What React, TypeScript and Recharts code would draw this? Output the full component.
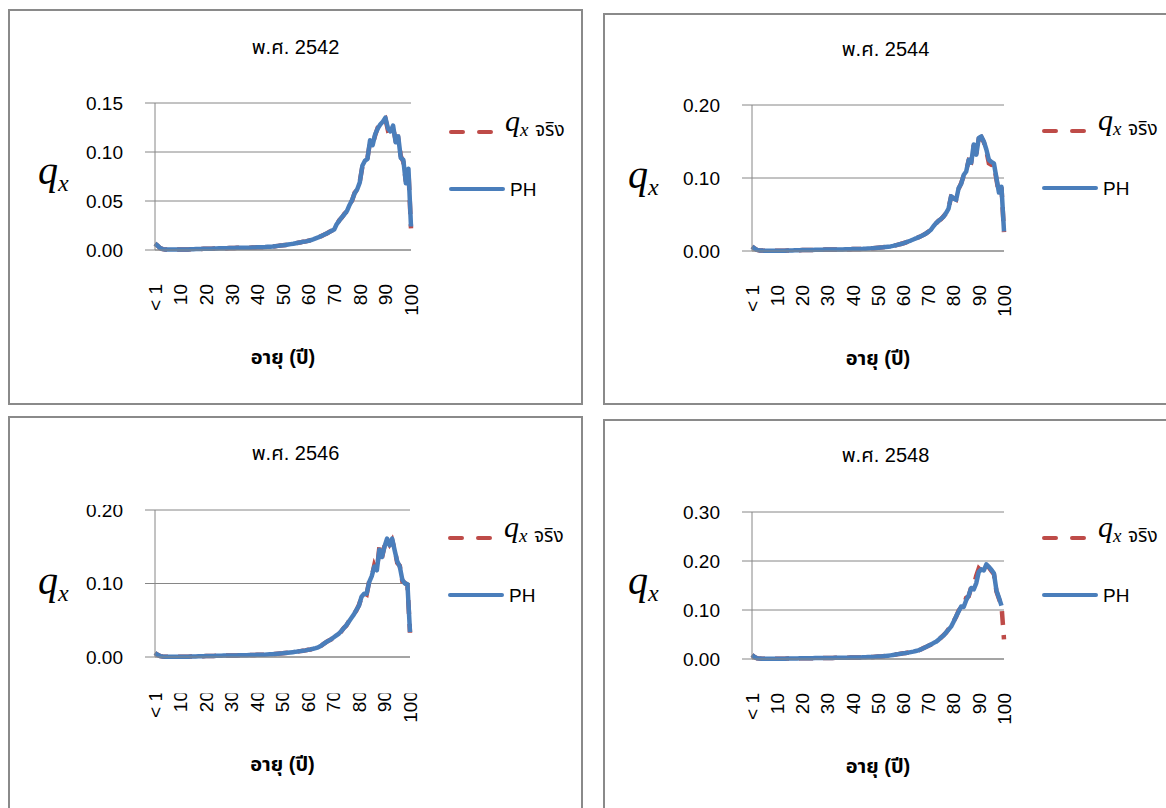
import React from "react";
import { LineChart, Line, XAxis, YAxis, CartesianGrid, Legend } from "recharts";

// age categories; Excel shows every 10th one
const ages = [
  "< 1", "1", "2", "3", "4", "5", "6", "7", "8", "9",
  "10", "11", "12", "13", "14", "15", "16", "17", "18", "19",
  "20", "21", "22", "23", "24", "25", "26", "27", "28", "29",
  "30", "31", "32", "33", "34", "35", "36", "37", "38", "39",
  "40", "41", "42", "43", "44", "45", "46", "47", "48", "49",
  "50", "51", "52", "53", "54", "55", "56", "57", "58", "59",
  "60", "61", "62", "63", "64", "65", "66", "67", "68", "69",
  "70", "71", "72", "73", "74", "75", "76", "77", "78", "79",
  "80", "81", "82", "83", "84", "85", "86", "87", "88", "89",
  "90", "91", "92", "93", "94", "95", "96", "97", "98", "99",
  "100",
];

// พ.ศ. 2542
const qx2542 = [
  0.0065, 0.0045, 0.0020, 0.0009, 0.0006, 0.0005, 0.0004, 0.0004, 0.0004, 0.0004,
  0.0004, 0.0005, 0.0005, 0.0006, 0.0007, 0.0008, 0.0009, 0.0010, 0.0011, 0.0012,
  0.0013, 0.0014, 0.0014, 0.0015, 0.0016, 0.0017, 0.0018, 0.0018, 0.0019, 0.0020,
  0.0021, 0.0021, 0.0022, 0.0022, 0.0023, 0.0023, 0.0024, 0.0024, 0.0025, 0.0026,
  0.0027, 0.0028, 0.0029, 0.0030, 0.0032, 0.0034, 0.0036, 0.0039, 0.0042, 0.0045,
  0.0048, 0.0052, 0.0056, 0.0060, 0.0064, 0.0069, 0.0074, 0.0079, 0.0085, 0.0088,
  0.0095, 0.0101, 0.0112, 0.0120, 0.0132, 0.0142, 0.0156, 0.0167, 0.0183, 0.0196,
  0.0215, 0.0260, 0.0305, 0.0330, 0.0370, 0.0395, 0.0465, 0.0505, 0.0585, 0.0615,
  0.0700, 0.0850, 0.0920, 0.0940, 0.1100, 0.1080, 0.1170, 0.1250, 0.1270, 0.1320,
  0.1340, 0.1220, 0.1230, 0.1250, 0.1120, 0.1140, 0.0960, 0.0900, 0.0700, 0.0810,
  0.0220,
];
const ph2542 = [
  0.0065, 0.0045, 0.0020, 0.0009, 0.0006, 0.0005, 0.0004, 0.0004, 0.0004, 0.0004,
  0.0004, 0.0005, 0.0005, 0.0006, 0.0007, 0.0008, 0.0009, 0.0010, 0.0011, 0.0012,
  0.0013, 0.0014, 0.0014, 0.0015, 0.0016, 0.0017, 0.0018, 0.0018, 0.0019, 0.0020,
  0.0021, 0.0021, 0.0022, 0.0022, 0.0023, 0.0023, 0.0024, 0.0024, 0.0025, 0.0026,
  0.0027, 0.0028, 0.0029, 0.0030, 0.0032, 0.0034, 0.0036, 0.0039, 0.0042, 0.0045,
  0.0048, 0.0052, 0.0056, 0.0060, 0.0064, 0.0069, 0.0074, 0.0079, 0.0085, 0.0088,
  0.0094, 0.0102, 0.0111, 0.0121, 0.0131, 0.0143, 0.0155, 0.0168, 0.0182, 0.0197,
  0.0210, 0.0265, 0.0300, 0.0335, 0.0365, 0.0400, 0.0460, 0.0510, 0.0580, 0.0620,
  0.0690, 0.0860, 0.0910, 0.0930, 0.1120, 0.1070, 0.1180, 0.1240, 0.1280, 0.1310,
  0.1350, 0.1240, 0.1210, 0.1270, 0.1100, 0.1160, 0.0940, 0.0920, 0.0680, 0.0830,
  0.0240,
];

// พ.ศ. 2544
const qx2544 = [
  0.0060, 0.0035, 0.0015, 0.0008, 0.0006, 0.0005, 0.0004, 0.0004, 0.0004, 0.0004,
  0.0004, 0.0004, 0.0004, 0.0005, 0.0006, 0.0007, 0.0008, 0.0009, 0.0010, 0.0011,
  0.0012, 0.0013, 0.0013, 0.0014, 0.0015, 0.0016, 0.0017, 0.0017, 0.0018, 0.0019,
  0.0019, 0.0020, 0.0020, 0.0021, 0.0021, 0.0022, 0.0022, 0.0023, 0.0024, 0.0025,
  0.0026, 0.0027, 0.0028, 0.0029, 0.0030, 0.0032, 0.0034, 0.0036, 0.0039, 0.0042,
  0.0045, 0.0048, 0.0051, 0.0055, 0.0059, 0.0063, 0.0070, 0.0078, 0.0087, 0.0096,
  0.0106, 0.0116, 0.0131, 0.0142, 0.0159, 0.0171, 0.0188, 0.0201, 0.0221, 0.0238,
  0.0265, 0.0288, 0.0345, 0.0375, 0.0415, 0.0435, 0.0475, 0.0515, 0.0590, 0.0740,
  0.0725, 0.0705, 0.0850, 0.0930, 0.1030, 0.1100, 0.1240, 0.1220, 0.1450, 0.1330,
  0.1540, 0.1560, 0.1490, 0.1370, 0.1200, 0.1180, 0.1190, 0.0980, 0.0780, 0.0870,
  0.0260,
];
const ph2544 = [
  0.0060, 0.0035, 0.0015, 0.0008, 0.0006, 0.0005, 0.0004, 0.0004, 0.0004, 0.0004,
  0.0004, 0.0004, 0.0004, 0.0005, 0.0006, 0.0007, 0.0008, 0.0009, 0.0010, 0.0011,
  0.0012, 0.0013, 0.0013, 0.0014, 0.0015, 0.0016, 0.0017, 0.0017, 0.0018, 0.0019,
  0.0019, 0.0020, 0.0020, 0.0021, 0.0021, 0.0022, 0.0022, 0.0023, 0.0024, 0.0025,
  0.0026, 0.0027, 0.0028, 0.0029, 0.0030, 0.0032, 0.0034, 0.0036, 0.0039, 0.0042,
  0.0045, 0.0048, 0.0051, 0.0055, 0.0059, 0.0063, 0.0070, 0.0078, 0.0087, 0.0096,
  0.0105, 0.0117, 0.0130, 0.0143, 0.0158, 0.0172, 0.0187, 0.0202, 0.0220, 0.0240,
  0.0262, 0.0290, 0.0340, 0.0380, 0.0410, 0.0440, 0.0470, 0.0520, 0.0580, 0.0750,
  0.0720, 0.0700, 0.0860, 0.0920, 0.1040, 0.1090, 0.1250, 0.1210, 0.1460, 0.1320,
  0.1550, 0.1570, 0.1500, 0.1390, 0.1250, 0.1220, 0.1200, 0.1000, 0.0800, 0.0880,
  0.0270,
];

// พ.ศ. 2546
const qx2546 = [
  0.0055, 0.0030, 0.0012, 0.0007, 0.0005, 0.0004, 0.0004, 0.0004, 0.0004, 0.0004,
  0.0004, 0.0004, 0.0004, 0.0005, 0.0006, 0.0007, 0.0008, 0.0009, 0.0010, 0.0011,
  0.0012, 0.0013, 0.0014, 0.0015, 0.0016, 0.0017, 0.0018, 0.0019, 0.0020, 0.0021,
  0.0021, 0.0022, 0.0022, 0.0023, 0.0023, 0.0024, 0.0025, 0.0026, 0.0027, 0.0028,
  0.0029, 0.0030, 0.0031, 0.0032, 0.0034, 0.0036, 0.0038, 0.0041, 0.0044, 0.0047,
  0.0050, 0.0054, 0.0058, 0.0062, 0.0066, 0.0070, 0.0075, 0.0080, 0.0085, 0.0090,
  0.0098, 0.0103, 0.0113, 0.0120, 0.0133, 0.0148, 0.0176, 0.0198, 0.0222, 0.0238,
  0.0268, 0.0287, 0.0318, 0.0345, 0.0395, 0.0425, 0.0485, 0.0525, 0.0585, 0.0635,
  0.0710, 0.0810, 0.0870, 0.0850, 0.1030, 0.1090, 0.1250, 0.1170, 0.1500, 0.1350,
  0.1510, 0.1600, 0.1530, 0.1590, 0.1460, 0.1280, 0.1240, 0.1030, 0.1010, 0.0980,
  0.0330,
];
const ph2546 = [
  0.0055, 0.0030, 0.0012, 0.0007, 0.0005, 0.0004, 0.0004, 0.0004, 0.0004, 0.0004,
  0.0004, 0.0004, 0.0004, 0.0005, 0.0006, 0.0007, 0.0008, 0.0009, 0.0010, 0.0011,
  0.0012, 0.0013, 0.0014, 0.0015, 0.0016, 0.0017, 0.0018, 0.0019, 0.0020, 0.0021,
  0.0021, 0.0022, 0.0022, 0.0023, 0.0023, 0.0024, 0.0025, 0.0026, 0.0027, 0.0028,
  0.0029, 0.0030, 0.0031, 0.0032, 0.0034, 0.0036, 0.0038, 0.0041, 0.0044, 0.0047,
  0.0050, 0.0054, 0.0058, 0.0062, 0.0066, 0.0070, 0.0075, 0.0080, 0.0085, 0.0090,
  0.0097, 0.0104, 0.0112, 0.0121, 0.0132, 0.0150, 0.0175, 0.0200, 0.0220, 0.0240,
  0.0265, 0.0290, 0.0315, 0.0350, 0.0390, 0.0430, 0.0480, 0.0530, 0.0580, 0.0640,
  0.0700, 0.0820, 0.0860, 0.0860, 0.1020, 0.1100, 0.1230, 0.1180, 0.1460, 0.1360,
  0.1500, 0.1610, 0.1520, 0.1610, 0.1450, 0.1300, 0.1230, 0.1050, 0.1000, 0.0990,
  0.0340,
];

// พ.ศ. 2548 (PH stops at 99)
const qx2548 = [
  0.0080, 0.0040, 0.0015, 0.0008, 0.0006, 0.0005, 0.0005, 0.0005, 0.0005, 0.0005,
  0.0005, 0.0005, 0.0006, 0.0007, 0.0008, 0.0009, 0.0010, 0.0011, 0.0012, 0.0013,
  0.0014, 0.0015, 0.0016, 0.0016, 0.0017, 0.0018, 0.0018, 0.0019, 0.0020, 0.0020,
  0.0021, 0.0022, 0.0022, 0.0023, 0.0024, 0.0025, 0.0026, 0.0027, 0.0028, 0.0029,
  0.0030, 0.0031, 0.0032, 0.0033, 0.0035, 0.0037, 0.0039, 0.0041, 0.0043, 0.0046,
  0.0049, 0.0052, 0.0056, 0.0061, 0.0067, 0.0074, 0.0082, 0.0091, 0.0100, 0.0108,
  0.0116, 0.0121, 0.0131, 0.0139, 0.0151, 0.0161, 0.0176, 0.0193, 0.0222, 0.0243,
  0.0272, 0.0292, 0.0328, 0.0345, 0.0395, 0.0435, 0.0485, 0.0535, 0.0610, 0.0650,
  0.0770, 0.0860, 0.0990, 0.1060, 0.1100, 0.1250, 0.1280, 0.1470, 0.1500, 0.1700,
  0.1850, 0.1800, 0.1820, 0.1900, 0.1870, 0.1800, 0.1730, 0.1380, 0.1230, 0.1100,
  0.0400,
];
const ph2548 = [
  0.0080, 0.0040, 0.0015, 0.0008, 0.0006, 0.0005, 0.0005, 0.0005, 0.0005, 0.0005,
  0.0005, 0.0005, 0.0006, 0.0007, 0.0008, 0.0009, 0.0010, 0.0011, 0.0012, 0.0013,
  0.0014, 0.0015, 0.0016, 0.0016, 0.0017, 0.0018, 0.0018, 0.0019, 0.0020, 0.0020,
  0.0021, 0.0022, 0.0022, 0.0023, 0.0024, 0.0025, 0.0026, 0.0027, 0.0028, 0.0029,
  0.0030, 0.0031, 0.0032, 0.0033, 0.0035, 0.0037, 0.0039, 0.0041, 0.0043, 0.0046,
  0.0049, 0.0052, 0.0056, 0.0061, 0.0067, 0.0074, 0.0082, 0.0091, 0.0100, 0.0108,
  0.0115, 0.0122, 0.0130, 0.0140, 0.0150, 0.0162, 0.0175, 0.0195, 0.0220, 0.0245,
  0.0270, 0.0295, 0.0325, 0.0350, 0.0390, 0.0440, 0.0480, 0.0540, 0.0600, 0.0660,
  0.0760, 0.0870, 0.0970, 0.1070, 0.1060, 0.1200, 0.1300, 0.1450, 0.1420, 0.1550,
  0.1780, 0.1830, 0.1810, 0.1930, 0.1880, 0.1820, 0.1750, 0.1400, 0.1250, 0.1090,
  null,
];

const ticks015 = [0, 0.05, 0.1, 0.15];
const ticks020 = [0, 0.1, 0.2];
const ticks030 = [0, 0.1, 0.2, 0.3];

const GRID = "#868686";
const RED = "#BE4B48";
const BLUE = "#4A7EBB";
const SANS = "'Liberation Sans', Arial, 'Noto Sans Thai', 'Noto Sans', sans-serif";
const SERIF = "'Liberation Serif', 'Times New Roman', serif";

const YAXIS_W = 70;
const XAXIS_H = 60;

type Spec = {
  title: string;
  actual: (number | null)[];
  ph: (number | null)[];
  yMax: number;
  yTicks: number[];
  box: { x: number; y: number; w: number; h: number };
  plot: { x0: number; x1: number; y0: number; y1: number };
  legendY: number;
  qLabel: { x: number; y: number };
  titleY: number;
  xLabelY: number;
  clipTop?: number;
};

// layout in page pixels
const panels: Spec[] = [
  {
    title: "พ.ศ. 2542", actual: qx2542, ph: ph2542, yMax: 0.15, yTicks: ticks015,
    box: { x: 8, y: 9, w: 575, h: 396 }, plot: { x0: 155, x1: 411, y0: 103, y1: 250 },
    legendY: 132, qLabel: { x: 38, y: 184 }, titleY: 47, xLabelY: 357,
  },
  {
    title: "พ.ศ. 2544", actual: qx2544, ph: ph2544, yMax: 0.2, yTicks: ticks020,
    box: { x: 603, y: 13, w: 565, h: 392 }, plot: { x0: 752, x1: 1004, y0: 105, y1: 251 },
    legendY: 131, qLabel: { x: 628, y: 188 }, titleY: 49, xLabelY: 358,
  },
  {
    title: "พ.ศ. 2546", actual: qx2546, ph: ph2546, yMax: 0.2, yTicks: ticks020,
    box: { x: 8, y: 416, w: 575, h: 400 }, plot: { x0: 155, x1: 410, y0: 510, y1: 657 },
    legendY: 538, qLabel: { x: 38, y: 594 }, titleY: 453, xLabelY: 764, clipTop: 505,
  },
  {
    title: "พ.ศ. 2548", actual: qx2548, ph: ph2548, yMax: 0.3, yTicks: ticks030,
    box: { x: 603, y: 419, w: 565, h: 400 }, plot: { x0: 752, x1: 1004, y0: 512, y1: 659 },
    legendY: 538, qLabel: { x: 628, y: 594 }, titleY: 455, xLabelY: 766,
  },
];

let clipSeq = 0;

function AgeTick(props: any) {
  const { x, y, payload, cut } = props;
  const id = cut ? `age-clip-${clipSeq++}` : undefined;
  return (
    <g transform={`translate(${x},${y})`}>
      {id && (
        <clipPath id={id}>
          <rect x={-20} y={2.5} width={40} height={80} />
        </clipPath>
      )}
      <g clipPath={id ? `url(#${id})` : undefined}>
        <text transform="rotate(-90)" textAnchor="end" dy="0.36em" fontSize={19} fontFamily={SANS} fill="#000">
          {payload.value}
        </text>
      </g>
    </g>
  );
}

function ValueTick(props: any) {
  const { x, y, payload, cutY } = props;
  const id = cutY != null ? `val-clip-${clipSeq++}` : undefined;
  return (
    <g>
      {id && (
        <clipPath id={id}>
          <rect x={0} y={cutY} width={400} height={400} />
        </clipPath>
      )}
      <text x={x} y={y} dy="0.36em" textAnchor="end" fontSize={19} fontFamily={SANS} fill="#000"
        clipPath={id ? `url(#${id})` : undefined}>
        {Number(payload.value).toFixed(2)}
      </text>
    </g>
  );
}

function SeriesKey(props: any) {
  const items = props.payload ?? [];
  return (
    <svg width={130} height={90} style={{ overflow: "visible" }}>
      {items.map((it: any) => {
        if (it.dataKey === "actual") {
          const cy = 12;
          return (
            <g key="actual">
              <line x1={2} x2={42} y1={cy} y2={cy} stroke={it.color} strokeWidth={4}
                strokeDasharray="12 16" strokeLinecap="round" />
              <text y={cy - 1} fill="#000">
                <tspan x={56} fontFamily={SERIF} fontStyle="italic" fontSize={30}>q</tspan>
                <tspan x={71} dy={5} fontFamily={SERIF} fontStyle="italic" fontSize={19}>x</tspan>
                <tspan x={86} fontFamily={SANS} fontSize={19}>จริง</tspan>
              </text>
            </g>
          );
        }
        const cy = 69;
        return (
          <g key="ph">
            <line x1={2} x2={54} y1={cy} y2={cy} stroke={it.color} strokeWidth={4} strokeLinecap="round" />
            <text x={61} y={cy + 7} fontFamily={SANS} fontSize={19} fill="#000">PH</text>
          </g>
        );
      })}
    </svg>
  );
}

function Panel({ spec }: { spec: Spec }) {
  const { box, plot } = spec;
  const data = ages.map((age, i) => ({ age, actual: spec.actual[i], ph: spec.ph[i] }));
  const margin = {
    top: plot.y0 - box.y,
    right: box.x + box.w - plot.x1,
    bottom: box.y + box.h - plot.y1 - XAXIS_H,
    left: plot.x0 - box.x - YAXIS_W,
  };
  const cutY = spec.clipTop != null ? spec.clipTop - box.y : undefined;

  return (
    <>
      <div
        style={{
          position: "absolute", left: box.x, top: box.y, width: box.w, height: box.h,
          border: "2px solid #8a8a8a", boxSizing: "border-box", background: "#fff",
        }}
      />
      <div style={{ position: "absolute", left: box.x, top: box.y }}>
        <LineChart width={box.w} height={box.h} data={data} margin={margin}>
          <CartesianGrid vertical={false} stroke={GRID} />
          <XAxis
            dataKey="age"
            interval={9}
            height={XAXIS_H}
            tickLine={false}
            tickSize={0}
            tickMargin={34}
            axisLine={{ stroke: GRID }}
            tick={(p: any) => <AgeTick {...p} cut={spec.clipTop != null} />}
          />
          <YAxis
            width={YAXIS_W}
            domain={[0, spec.yMax]}
            ticks={spec.yTicks}
            tickSize={10}
            tickMargin={22}
            axisLine={{ stroke: GRID }}
            tickLine={{ stroke: GRID }}
            tick={(p: any) => <ValueTick {...p} cutY={cutY} />}
          />
          <Legend
            layout="vertical"
            align="center"
            verticalAlign="middle"
            content={SeriesKey}
            wrapperStyle={{ left: plot.x1 + 38 - box.x, top: spec.legendY - 12 - box.y, width: 130 }}
          />
          <Line
            dataKey="actual"
            name="qx จริง"
            type="linear"
            stroke={RED}
            strokeWidth={4.5}
            strokeDasharray="14 10"
            dot={false}
            isAnimationActive={false}
          />
          <Line
            dataKey="ph"
            name="PH"
            type="linear"
            stroke={BLUE}
            strokeWidth={4.5}
            strokeLinejoin="round"
            dot={false}
            isAnimationActive={false}
          />
        </LineChart>
      </div>
    </>
  );
}

function PanelText({ spec }: { spec: Spec }) {
  const { box, plot } = spec;
  return (
    <g>
      <text x={box.x + box.w / 2} y={spec.titleY} dominantBaseline="central" textAnchor="middle"
        fontFamily={SANS} fontSize={20} fill="#000">
        {spec.title}
      </text>
      <text x={(plot.x0 + plot.x1) / 2} y={spec.xLabelY} dominantBaseline="central" textAnchor="middle"
        fontFamily={SANS} fontSize={20} fontWeight="bold" fill="#000">
        อายุ (ปี)
      </text>
      <text y={spec.qLabel.y} fill="#000" fontFamily={SERIF} fontStyle="italic">
        <tspan x={spec.qLabel.x} fontSize={40}>q</tspan>
        <tspan dy={7} fontSize={24}>x</tspan>
      </text>
    </g>
  );
}

export default function App() {
  return (
    <div style={{ position: "absolute", left: 0, top: 0, width: 1166, height: 808, overflow: "hidden", background: "#fff" }}>
      {panels.map((p) => (
        <Panel key={p.title} spec={p} />
      ))}
      <svg width={1166} height={808} style={{ position: "absolute", left: 0, top: 0, pointerEvents: "none" }}>
        {panels.map((p) => (
          <PanelText key={p.title} spec={p} />
        ))}
      </svg>
    </div>
  );
}
